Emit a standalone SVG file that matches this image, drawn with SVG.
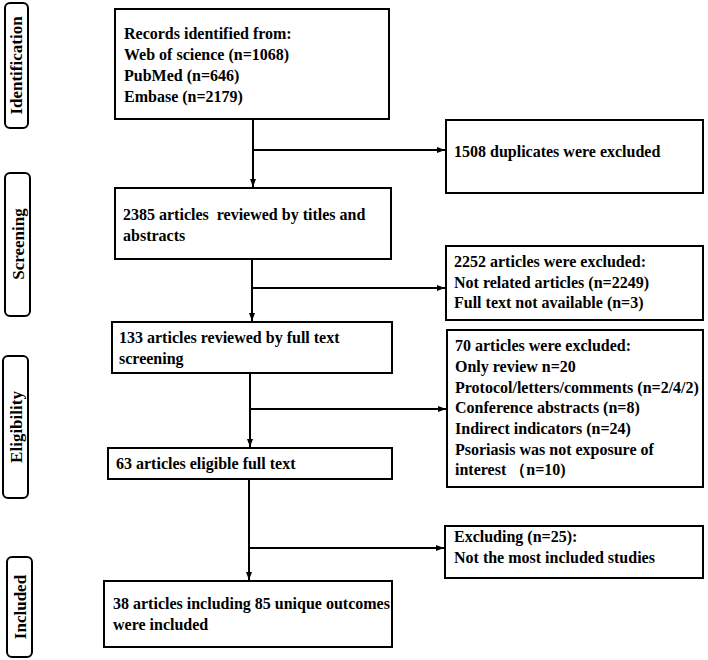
<svg xmlns="http://www.w3.org/2000/svg" width="708" height="660" viewBox="0 0 708 660">
<style>
.box{fill:#fff;stroke:#000;stroke-width:2}
.side{fill:#fff;stroke:#000;stroke-width:2}
.t{font-family:"Liberation Serif","Times New Roman",serif;font-weight:bold;font-size:16px;fill:#000}
.s{font-family:"Liberation Serif","Times New Roman",serif;font-weight:bold;font-size:17px;fill:#000;text-anchor:middle}
.c{fill:none;stroke:#000;stroke-width:2}
</style>
<defs>
<marker id="ah" markerUnits="userSpaceOnUse" markerWidth="9" markerHeight="8" refX="8" refY="4" orient="auto">
<path d="M0,1 L8,4 L0,7 z" fill="#000"/>
</marker>
</defs>
<rect width="708" height="660" fill="#fff"/>
<g id="side-identification">
<rect class="side" x="5" y="3" width="23" height="125" rx="5"/>
<text class="s" transform="translate(22,65.5) rotate(-90)">Identification</text>
</g>
<g id="side-screening">
<rect class="side" x="5" y="173" width="25" height="143" rx="5"/>
<text class="s" transform="translate(23.5,244) rotate(-90)">Screening</text>
</g>
<g id="side-eligibility">
<rect class="side" x="3" y="356" width="25" height="142" rx="5"/>
<text class="s" transform="translate(21.5,427) rotate(-90)">Eligibility</text>
</g>
<g id="side-included">
<rect class="side" x="7" y="557" width="25" height="100" rx="5"/>
<text class="s" transform="translate(25.5,607) rotate(-90)">Included</text>
</g>
<g id="records">
<rect class="box" x="115" y="9" width="274" height="110"/>
<text class="t" x="124" y="39">Records identified from:</text>
<text class="t" x="124" y="60">Web of science (n=1068)</text>
<text class="t" x="124" y="81">PubMed (n=646)</text>
<text class="t" x="124" y="102">Embase (n=2179)</text>
</g>
<g id="duplicates">
<rect class="box" x="446" y="120" width="257" height="73"/>
<text class="t" x="454" y="157">1508 duplicates were excluded</text>
</g>
<g id="screened">
<rect class="box" x="115" y="188" width="276" height="71"/>
<text class="t" x="123" y="220" xml:space="preserve">2385 articles  reviewed by titles and</text>
<text class="t" x="123" y="241">abstracts</text>
</g>
<g id="excluded1">
<rect class="box" x="446" y="246" width="257" height="74"/>
<text class="t" x="454" y="267">2252 articles were excluded:</text>
<text class="t" x="454" y="288">Not related articles (n=2249)</text>
<text class="t" x="454" y="308">Full text not available (n=3)</text>
</g>
<g id="fulltext">
<rect class="box" x="112" y="322" width="280" height="51"/>
<text class="t" x="119" y="343">133 articles reviewed by full text</text>
<text class="t" x="119" y="364">screening</text>
</g>
<g id="excluded2">
<rect class="box" x="447" y="330" width="256" height="157"/>
<text class="t" x="455" y="351">70 articles were excluded:</text>
<text class="t" x="455" y="372">Only review n=20</text>
<text class="t" x="455" y="393">Protocol/letters/comments (n=2/4/2)</text>
<text class="t" x="455" y="413">Conference abstracts (n=8)</text>
<text class="t" x="455" y="434">Indirect indicators (n=24)</text>
<text class="t" x="455" y="455">Psoriasis was not exposure of</text>
<text class="t" x="455" y="475" xml:space="preserve">interest （n=10)</text>
</g>
<g id="eligible">
<rect class="box" x="108" y="448" width="284" height="31"/>
<text class="t" x="116" y="469">63 articles eligible full text</text>
</g>
<g id="excluded3">
<rect class="box" x="445" y="526" width="258" height="52"/>
<text class="t" x="454" y="542">Excluding (n=25):</text>
<text class="t" x="454" y="563">Not the most included studies</text>
</g>
<g id="included">
<rect class="box" x="104" y="581" width="288" height="66"/>
<text class="t" x="113" y="609">38 articles including 85 unique outcomes</text>
<text class="t" x="113" y="630">were included</text>
</g>
<g id="connectors">
<path class="c" d="M253,119 V187" marker-end="url(#ah)"/>
<path class="c" d="M253,150 H445" marker-end="url(#ah)"/>
<path class="c" d="M252,259 V321" marker-end="url(#ah)"/>
<path class="c" d="M252,288 H445" marker-end="url(#ah)"/>
<path class="c" d="M250,373 V447" marker-end="url(#ah)"/>
<path class="c" d="M250,409 H446" marker-end="url(#ah)"/>
<path class="c" d="M249,479 V580" marker-end="url(#ah)"/>
<path class="c" d="M249,548 H444" marker-end="url(#ah)"/>
</g>
</svg>
